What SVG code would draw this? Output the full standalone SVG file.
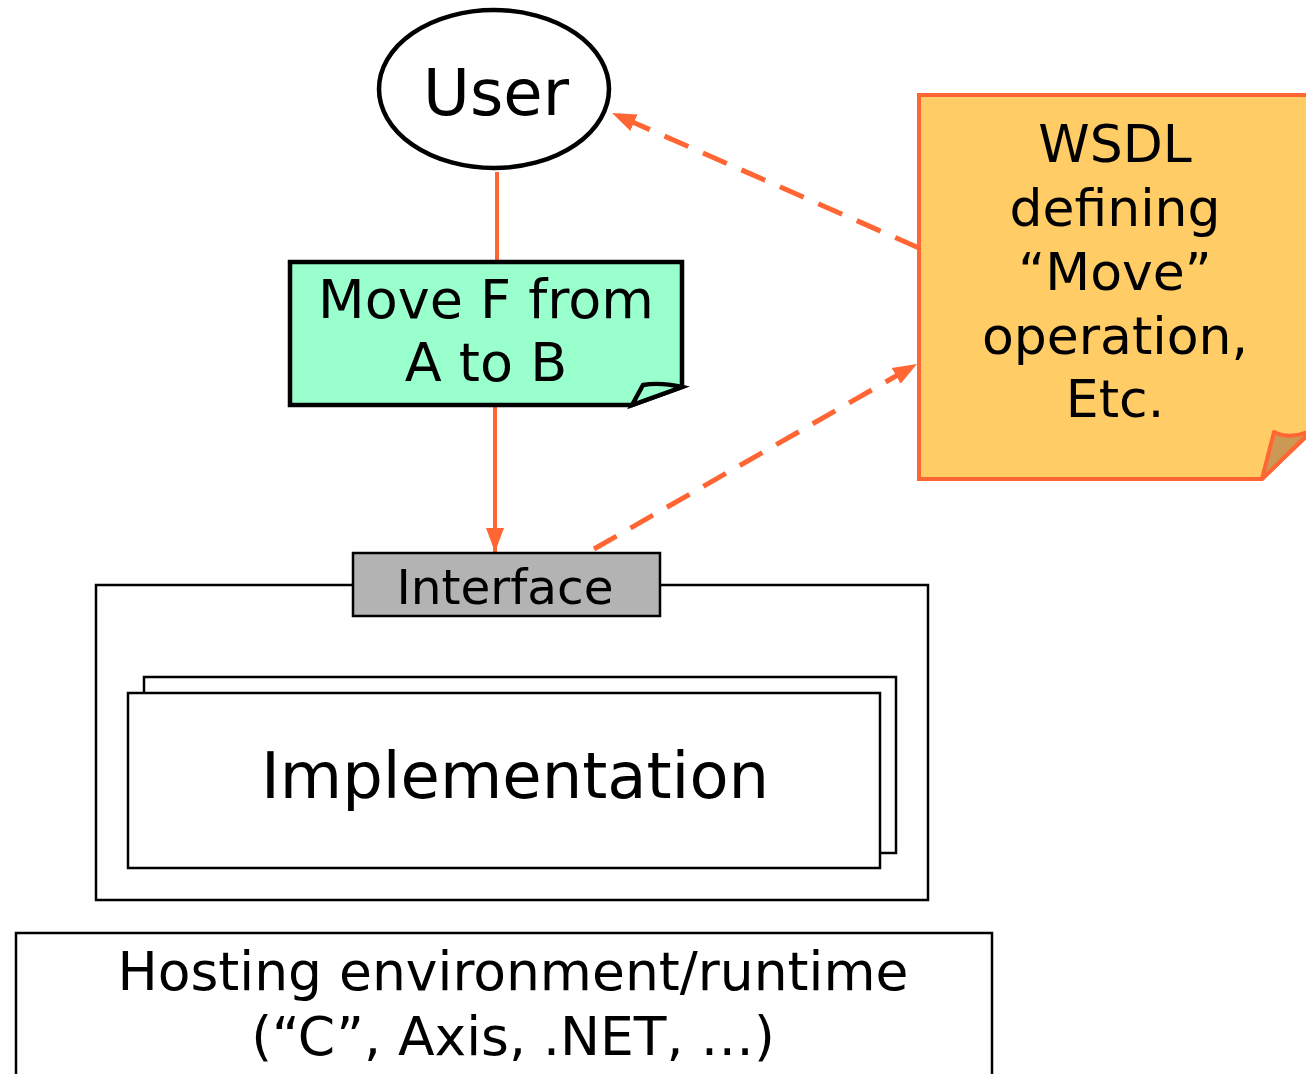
<svg xmlns="http://www.w3.org/2000/svg" width="1306" height="1074" viewBox="0 0 1306 1074">
<style>
text{font-family:"DejaVu Sans","Liberation Sans",sans-serif;fill:#000;text-anchor:middle}
.box{fill:#fff;stroke:#000;stroke-width:2.5}
.con{stroke:#FF6633;stroke-width:4;fill:none}
.dash{stroke:#FF6633;stroke-width:5;fill:none;stroke-dasharray:26 16}
</style>
<defs>
<marker id="ah" markerUnits="userSpaceOnUse" markerWidth="26" markerHeight="22" refX="24" refY="11" orient="auto">
<path d="M0,2 L24,11 L0,20 Z" fill="#FF6633"/>
</marker>
</defs>
<rect width="1306" height="1074" fill="#fff"/>
<g id="connectors">
<line class="con" x1="497" y1="172" x2="497" y2="262"/>
<line class="con" x1="495" y1="405" x2="495" y2="552" marker-end="url(#ah)"/>
<line class="dash" x1="919" y1="248" x2="612" y2="113" marker-end="url(#ah)"/>
<line class="dash" x1="594" y1="549" x2="917" y2="364" marker-end="url(#ah)"/>
</g>
<g id="user">
<ellipse cx="494" cy="89" rx="115" ry="79" fill="#fff" stroke="#000" stroke-width="4.5"/>
<text x="496" y="115" font-size="64">User</text>
</g>
<g id="move">
<path d="M290,262 L682,262 L682,387 L632,405 L290,405 Z" fill="#99FFCC" stroke="#000" stroke-width="4.5" stroke-linejoin="miter"/>
<path d="M643,385 L632,405 L682,387 Q660,382 643,385 Z" fill="#99FFCC" stroke="#000" stroke-width="4.5"/>
<text x="486" y="318" font-size="54">Move F from</text>
<text x="486" y="381" font-size="54">A to B</text>
</g>
<g id="wsdl">
<path d="M919,95 L1310,95 L1310,433 L1262,479 L919,479 Z" fill="#FFCC66" stroke="#FF6633" stroke-width="4"/>
<path d="M1274,432 L1262,479 L1306,436 L1310,431 Q1290,440 1274,432 Z" fill="#CC9955" stroke="#FF6633" stroke-width="4" stroke-linejoin="round"/>
<text x="1115" y="162" font-size="52">WSDL</text>
<text x="1115" y="226" font-size="52">defining</text>
<text x="1115" y="290" font-size="52">“Move”</text>
<text x="1115" y="354" font-size="52">operation,</text>
<text x="1115" y="417" font-size="52">Etc.</text>
</g>
<g id="container">
<rect class="box" x="96" y="585" width="832" height="315"/>
</g>
<g id="interface">
<rect x="353" y="553" width="307" height="63" fill="#B3B3B3" stroke="#000" stroke-width="2.5"/>
<text x="505" y="604" font-size="48.5">Interface</text>
</g>
<g id="implementation">
<rect class="box" x="144" y="677" width="752" height="176"/>
<rect class="box" x="128" y="693" width="752" height="175"/>
<text x="515" y="798" font-size="64">Implementation</text>
</g>
<g id="hosting">
<rect class="box" x="16" y="933" width="976" height="150"/>
<text x="513" y="990" font-size="53.5">Hosting environment/runtime</text>
<text x="513" y="1055" font-size="53.5">(“C”, Axis, .NET, …)</text>
</g>
</svg>
